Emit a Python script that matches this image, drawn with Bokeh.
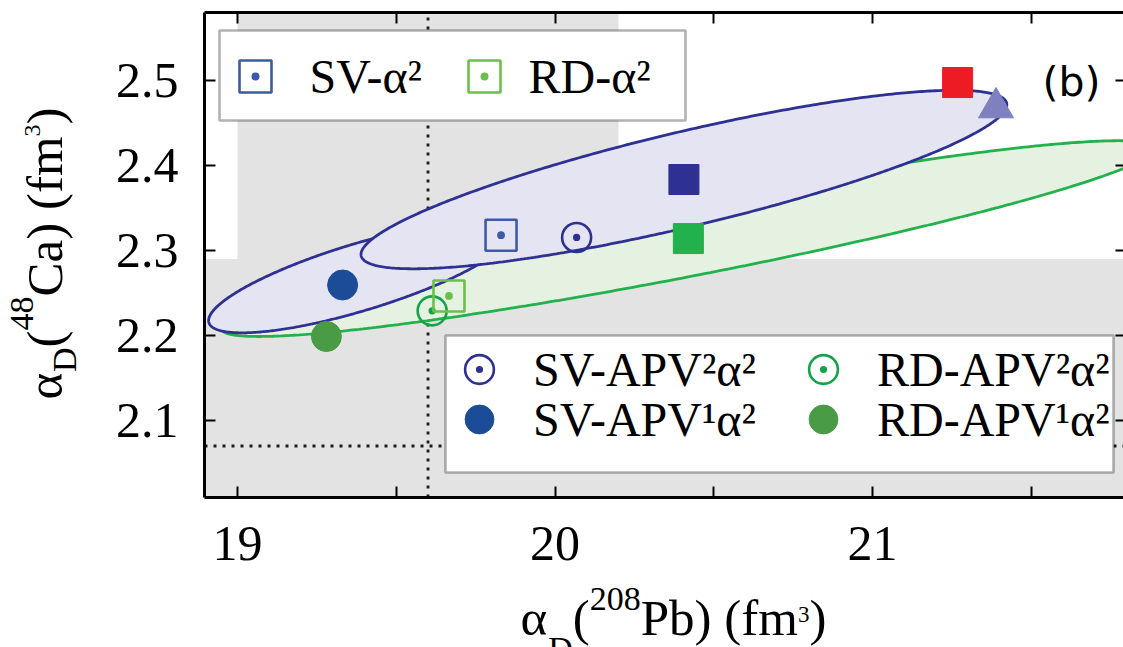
import numpy as np
from bokeh.plotting import figure
from bokeh.models import (Range1d, FixedTicker, BoxAnnotation, Label,
                          Legend, LegendItem, LinearAxis)
from bokeh.embed import file_html
from bokeh.resources import INLINE

# ---------------- data ----------------
X_BOX = (18.896, 21.8)      # plotted x interval (frame of the chart)
Y_BOX = (2.0094, 2.58)      # plotted y interval
X_TICKS = [19, 20, 21]
X_MINOR = [19.5, 20.5, 21.5]
Y_TICKS = [2.1, 2.2, 2.3, 2.4, 2.5]

band_x = (19.0, 20.2)      # vertical grey band
band_y_top = 2.29          # horizontal grey band (below this value)
ref_x = 19.6               # dotted reference lines
ref_y = 2.07

# correlation ellipses: centre x, centre y, half-width x, y-amplitudes (A, B)
ell_green = dict(cx=20.42, cy=2.314, sx=1.47, A=0.106, B=0.045)
ell_blue_small = dict(cx=19.384, cy=2.2686, sx=0.475, A=0.051, B=0.041)
ell_blue_big = dict(cx=20.406, cy=2.3835, sx=1.017, A=0.088, B=0.0573)

sv_a2_x, sv_a2_y = [19.83], [2.318]
rd_a2_x, rd_a2_y = [19.666], [2.2465]
sv_apv2_x, sv_apv2_y = [20.068], [2.3153]
rd_apv2_x, rd_apv2_y = [19.613], [2.229]
sv_apv1_x, sv_apv1_y = [19.331], [2.2594]
rd_apv1_x, rd_apv1_y = [19.28], [2.1988]
sv_sq_x, sv_sq_y = [20.406], [2.3835]
rd_sq_x, rd_sq_y = [20.42], [2.314]
red_sq_x, red_sq_y = [21.268], [2.4976]
tri_x, tri_y = [21.389], [2.468]

# ---------------- colours / styles ----------------
NAVY = "#2e3192"
SV_APV1 = "#1c4b97"
SV_A2 = "#3d5aa9"
GREEN = "#22b14c"
RD_APV2 = "#15a34a"
RD_APV1 = "#4a9b45"
RD_A2 = "#6dbf4b"
RED = "#ed1c24"
TRI = "#7f80bf"
FILL_BLUE = "#e4e4f2"
FILL_GREEN = "#e5f1e1"
GREY = "#e3e3e3"
SERIF = "Liberation Serif"

# ---------------- layout ----------------
W_PX, H_PX = 1123, 647
BOX_LEFT_PX, BOX_TOP_PX = 204, 12     # where the chart frame starts on the canvas
PX_PER_X, PX_PER_Y = 317.5, 850.0
x0 = X_BOX[0] - BOX_LEFT_PX / PX_PER_X
y1 = Y_BOX[1] + BOX_TOP_PX / PX_PER_Y
x_range = Range1d(x0, x0 + W_PX / PX_PER_X)
y_range = Range1d(y1 - H_PX / PX_PER_Y, y1)

p = figure(width=W_PX, height=H_PX, x_range=x_range, y_range=y_range,
           output_backend="svg", toolbar_location=None, min_border=0)
p.grid.visible = False
p.outline_line_color = None
p.background_fill_color = "white"
p.border_fill_color = "white"

xt = FixedTicker(ticks=X_TICKS, minor_ticks=X_MINOR)
yt = FixedTicker(ticks=Y_TICKS, minor_ticks=[])

def style_axis(ax, ticker, loc, bounds, labels=True):
    ax.ticker = ticker
    ax.fixed_location = loc
    ax.bounds = bounds
    ax.major_tick_in = 11
    ax.major_tick_out = 0
    ax.minor_tick_in = 11
    ax.minor_tick_out = 0
    ax.major_tick_line_width = 2
    ax.minor_tick_line_width = 2
    ax.major_tick_line_color = "black"
    ax.minor_tick_line_color = "black"
    ax.axis_line_color = "black"
    ax.axis_line_width = 3
    if labels:
        ax.major_label_text_font = SERIF
        ax.major_label_text_font_size = "50px"
        ax.major_label_text_color = "black"
    else:
        ax.major_label_text_color = None

style_axis(p.xaxis[0], xt, Y_BOX[0], X_BOX)
p.xaxis[0].major_label_standoff = 29
style_axis(p.yaxis[0], yt, X_BOX[0], Y_BOX)
p.yaxis[0].major_label_standoff = 26
top_ax = LinearAxis()
p.add_layout(top_ax, "above")
style_axis(top_ax, xt, Y_BOX[1], X_BOX, labels=False)
right_ax = LinearAxis()
p.add_layout(right_ax, "right")
style_axis(right_ax, yt, X_BOX[1], Y_BOX, labels=False)

# grey bands and dotted reference lines
p.add_layout(BoxAnnotation(left=band_x[0], right=band_x[1], bottom=Y_BOX[0], top=Y_BOX[1],
                           fill_color=GREY, fill_alpha=1, line_color=None, level="underlay"))
p.add_layout(BoxAnnotation(left=X_BOX[0], right=X_BOX[1], bottom=Y_BOX[0], top=band_y_top,
                           fill_color=GREY, fill_alpha=1, line_color=None, level="underlay"))
p.segment(x0=[ref_x, X_BOX[0]], y0=[Y_BOX[0], ref_y], x1=[ref_x, X_BOX[1]], y1=[Y_BOX[1], ref_y],
          line_dash="3 6", line_width=2.8, line_color="#1a1a1a")

# ellipses
t = np.linspace(0, 2 * np.pi, 500)
def ellipse(e):
    xs = e["cx"] + e["sx"] * np.cos(t)
    ys = e["cy"] + e["A"] * np.cos(t) + e["B"] * np.sin(t)
    return xs, ys

for e, fc, lc in [(ell_green, FILL_GREEN, GREEN), (ell_blue_small, FILL_BLUE, NAVY),
                  (ell_blue_big, FILL_BLUE, NAVY)]:
    ex, ey = ellipse(e)
    p.patch(ex, ey, fill_color=fc, fill_alpha=1, line_color=lc, line_width=2.8)

# markers
r_sv_sq = p.scatter(sv_sq_x, sv_sq_y, marker="square", size=30, fill_color=NAVY, line_color=NAVY)
r_rd_sq = p.scatter(rd_sq_x, rd_sq_y, marker="square", size=30, fill_color=GREEN, line_color=GREEN)
r_red = p.scatter(red_sq_x, red_sq_y, marker="square", size=30, fill_color=RED, line_color=RED)
r_tri = p.scatter(tri_x, tri_y, marker="triangle", size=35, fill_color=TRI, line_color=TRI)
r_sv_apv2 = p.scatter(sv_apv2_x, sv_apv2_y, marker="circle_dot", size=29, fill_color=None,
                      line_color=NAVY, line_width=2.6)
r_rd_apv2 = p.scatter(rd_apv2_x, rd_apv2_y, marker="circle_dot", size=29, fill_color=None,
                      line_color=RD_APV2, line_width=2.6)
r_sv_apv1 = p.scatter(sv_apv1_x, sv_apv1_y, marker="circle", size=30, fill_color=SV_APV1,
                      line_color=SV_APV1)
r_rd_apv1 = p.scatter(rd_apv1_x, rd_apv1_y, marker="circle", size=30, fill_color=RD_APV1,
                      line_color=RD_APV1)
r_sv_a2 = p.scatter(sv_a2_x, sv_a2_y, marker="square_dot", size=31, fill_color=None,
                    line_color=SV_A2, line_width=2.6)
r_rd_a2 = p.scatter(rd_a2_x, rd_a2_y, marker="square_dot", size=31, fill_color=None,
                    line_color=RD_A2, line_width=2.6)

# legend boxes (screen units: from the canvas' bottom-left corner)
def sy(py):
    return H_PX - py

def box(l, r, t_, b_):
    p.add_layout(BoxAnnotation(left=l, right=r, bottom=sy(b_), top=sy(t_),
                               left_units="screen", right_units="screen",
                               bottom_units="screen", top_units="screen",
                               fill_color="white", fill_alpha=1, line_color="black",
                               line_width=2.6))
box(219, 685, 30, 120)
box(445, 1113, 335, 472)

def legend_item(label, r, cx, cy, gw, standoff):
    lg = Legend(items=[LegendItem(label=label, renderers=[r])],
                location=(cx - gw / 2, sy(cy + gw / 2)), orientation="vertical",
                border_line_color=None, background_fill_alpha=0,
                glyph_width=gw, glyph_height=gw, label_standoff=standoff,
                label_text_font=SERIF, label_text_font_size="48px",
                label_text_color="black", padding=0, margin=0, spacing=0)
    p.add_layout(lg)

legend_item("SV-α²", r_sv_a2, 254.5, 76, 80, 15)
legend_item("RD-α²", r_rd_a2, 483.5, 76, 80, 5)
legend_item("SV-APV²α²", r_sv_apv2, 479, 369, 72, 18)
legend_item("SV-APV¹α²", r_sv_apv1, 479, 419, 72, 18)
legend_item("RD-APV²α²", r_rd_apv2, 823, 369, 72, 18)
legend_item("RD-APV¹α²", r_rd_apv1, 823, 419, 72, 18)

p.add_layout(Label(x=1042, y=sy(81), x_units="screen", y_units="screen", text="(b)",
                   text_font="DejaVu Sans", text_font_size="41px", text_baseline="middle",
                   text_align="left", text_color="black"))

# composed axis titles (sub- and superscripts as separate texts)
W = {"α": 0.54, "D": 0.722, "(": 0.333, ")": 0.333, " ": 0.25, "P": 0.556, "b": 0.5,
     "f": 0.333, "m": 0.778, "C": 0.667, "a": 0.444}
MID = 0.3375   # distance (in em) from the alphabetic baseline to the middle of the text box

def tw(s, size):
    return sum(W.get(c, 0.5) for c in s) * size

def compose(pieces, start, base, rotated):
    """base: canvas pixel position of the main baseline (y for horizontal, x for rotated)."""
    pos = start
    for txt, size, shift in pieces:
        if rotated:
            bx = base - shift
            p.add_layout(Label(x=bx - MID * size, y=pos, x_units="screen", y_units="screen",
                               text=txt, text_font=SERIF, text_font_size=f"{size}px",
                               angle=np.pi / 2, text_align="left", text_baseline="middle",
                               text_color="black"))
        else:
            by = base - shift
            p.add_layout(Label(x=pos, y=sy(by - MID * size), x_units="screen", y_units="screen",
                               text=txt, text_font=SERIF, text_font_size=f"{size}px",
                               text_align="left", text_baseline="middle",
                               text_color="black"))
        pos += tw(txt, size)

x_pieces = [("α", 51, 0), ("D", 34, -24), ("(", 51, 0), ("208", 34, 25),
            ("Pb) (fm", 51, 0), ("3", 23, 13), (")", 51, 0)]
y_pieces = [("α", 51, 0), ("D", 34, -13), ("(", 51, 0), ("48", 34, 29),
            ("Ca) (fm", 51, 0), ("3", 24, 22), (")", 51, 0)]
x_total = sum(tw(s, z) for s, z, _ in x_pieces)
y_total = sum(tw(s, z) for s, z, _ in y_pieces)
compose(x_pieces, 673 - x_total / 2, 635, rotated=False)
compose(y_pieces, sy(253) - y_total / 2, 62, rotated=True)

open("out.html", "w").write(file_html(p, INLINE))
